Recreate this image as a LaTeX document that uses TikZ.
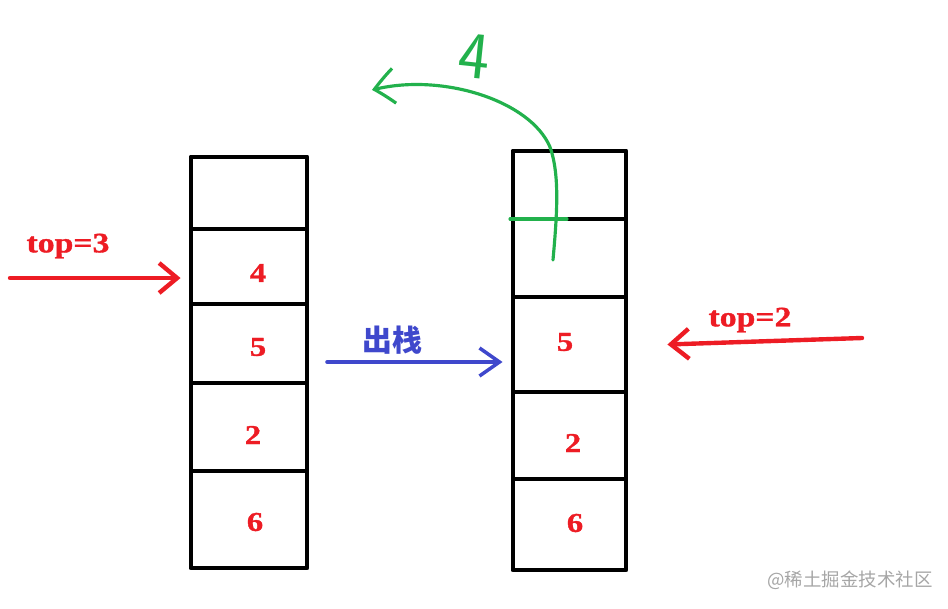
\documentclass[tikz,border=0pt]{standalone}
\usepackage{fontspec}
\setmainfont{Liberation Serif}
\newfontfamily\cjk{Noto Sans CJK SC}
\newfontfamily\valfont[FakeStretch=1.2, FakeBold=1.2]{Liberation Serif}
\usepackage{xcolor}
\usetikzlibrary{
    arrows.meta,
    bending,
    positioning,
    calc
}
\definecolor{penred}{HTML}{ED1C24}
\definecolor{penblue}{HTML}{3F48CC}
\definecolor{pengreen}{HTML}{22B14C}
\tikzset{%
    % Specifications for style of nodes:
    plain/.style = {},
    cell/.style = {
        plain,
        rectangle, draw=black, line width=2.8pt,
        inner sep=0pt, fill=none
    },
    lcell/.style = {cell, minimum width=2.32cm},
    rcell/.style = {cell, minimum width=2.26cm},
    val/.style = {plain, text=penred, font=\valfont\bfseries\fontsize{15.5}{18}\selectfont},
    toplabel/.style = {val, font=\valfont\bfseries\fontsize{16}{19}\selectfont},
    redarrow/.style = {draw=penred, line width=2.5pt, -{Straight Barb[length=3.6mm,width=6mm]}},
    bluearrow/.style = {draw=penblue, line width=2pt, -{Straight Barb[length=4mm,width=5.6mm]}},
    greenarrow/.style = {draw=pengreen, line width=1.8pt, -{Straight Barb[length=4mm,width=7mm,bend]}}
}

\begin{document}
\begin{tikzpicture}[x=0.02cm, y=-0.02cm, line cap=round, line join=round]
    \useasboundingbox (0,0) rectangle (948,609);
    % left stack
    \node[lcell, minimum height=1.44cm] (l1) at (249,193) {};
    \node[lcell, minimum height=1.5cm] (l2) at (249,266.5) {};
    \node[lcell, minimum height=1.58cm] (l3) at (249,343.5) {};
    \node[lcell, minimum height=1.76cm] (l4) at (249,427) {};
    \node[lcell, minimum height=1.94cm] (l5) at (249,519.5) {};
    \node[val] (lv2) at (258,273) {4};
    \node[val] (lv3) at (258,347) {5};
    \node[val] (lv4) at (253,435) {2};
    \node[val] (lv5) at (255,522) {6};
    % right stack
    \node[rcell, minimum height=1.36cm] (r1) at (569.5,185) {};
    \node[rcell, minimum height=1.56cm] (r2) at (569.5,258) {};
    \node[rcell, minimum height=1.9cm] (r3) at (569.5,344.5) {};
    \node[rcell, minimum height=1.74cm] (r4) at (569.5,435.5) {};
    \node[rcell, minimum height=1.82cm] (r5) at (569.5,524.5) {};
    \node[val] (rv3) at (565,342) {5};
    \node[val] (rv4) at (573,443) {2};
    \node[val] (rv5) at (575,523) {6};
    % top pointers
    \node[toplabel] (top3) at (68,246) {top=3};
    \coordinate (t3start) at (10,278);
    \draw[redarrow, shorten >=0.16cm] (t3start) -- (t3start -| l2.west);
    \node[toplabel] (top2) at (750,320) {top=2};
    \coordinate (t2start) at (862,338);
    \draw[redarrow] (t2start) -- ([xshift=0.78cm]r3.east);
    % pop
    \node[text=penblue, font=\cjk\bfseries\fontsize{17}{19}\selectfont] (pop) at (392,340) {出栈};
    \coordinate (popstart) at (327,362);
    \draw[bluearrow, shorten >=0.16cm] (popstart) -- (popstart -| r3.west);
    % element 4 leaves the stack
    \draw[pengreen, line width=1.8pt] (510,219) -- (567,219);
    \coordinate (gstart) at (553,260);
    \coordinate (gmid) at (550,147);
    \coordinate (gend) at (372,90);
    \draw[greenarrow] (gstart) .. controls (557,215) and (560,175) .. (gmid)
        .. controls (530,100) and (440,72) .. (gend);
    \node[text=pengreen, font=\sffamily\fontsize{38}{40}\selectfont, rotate=-6] (out4) at (474,56) {4};
    % watermark
    \node[text=black!35, font=\cjk\fontsize{10.5}{12}\selectfont] (mark) at (850,580) {@稀土掘金技术社区};
\end{tikzpicture}
\end{document}
